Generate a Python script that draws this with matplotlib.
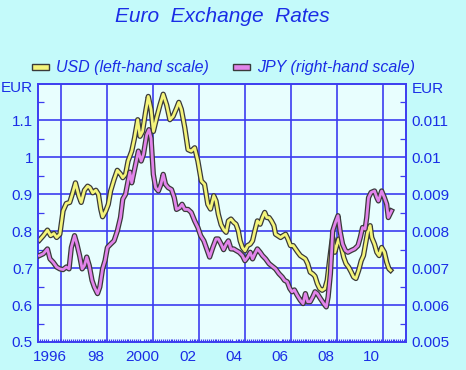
import numpy as np
import matplotlib
matplotlib.use("Agg")
import matplotlib.pyplot as plt
import matplotlib.patheffects as pe
from matplotlib.patches import Rectangle

plt.rcParams['font.family'] = ['Liberation Sans', 'DejaVu Sans']

# EUR per USD (left-hand scale)
usd_t = [1996.04, 1996.21, 1996.39, 1996.53, 1996.67, 1996.79, 1996.93, 1997.07, 1997.21, 1997.36,
         1997.47, 1997.61, 1997.76, 1997.86, 1998.00, 1998.14, 1998.24, 1998.36, 1998.50, 1998.61,
         1998.71, 1998.79, 1998.93, 1999.04, 1999.14, 1999.29, 1999.43, 1999.57, 1999.67, 1999.79,
         1999.90, 2000.06, 2000.18, 2000.32, 2000.42, 2000.53, 2000.67, 2000.78, 2000.90, 2001.00,
         2001.14, 2001.29, 2001.43, 2001.58, 2001.72, 2001.86, 2002.01, 2002.11, 2002.22, 2002.37,
         2002.51, 2002.65, 2002.80, 2002.94, 2003.09, 2003.23, 2003.37, 2003.49, 2003.63, 2003.73,
         2003.83, 2003.95, 2004.06, 2004.17, 2004.27, 2004.38, 2004.50, 2004.60, 2004.70, 2004.78,
         2004.88, 2004.99, 2005.10, 2005.22, 2005.32, 2005.42, 2005.53, 2005.65, 2005.75, 2005.85,
         2005.94, 2006.04, 2006.14, 2006.25, 2006.32, 2006.42, 2006.54, 2006.65, 2006.76, 2006.86,
         2006.97, 2007.09, 2007.19, 2007.29, 2007.40, 2007.52, 2007.62, 2007.72, 2007.83, 2007.95,
         2008.04, 2008.14, 2008.24, 2008.35, 2008.47, 2008.57, 2008.67, 2008.76, 2008.81, 2008.90,
         2009.00, 2009.07, 2009.19, 2009.29, 2009.39, 2009.50, 2009.62, 2009.72, 2009.82, 2009.94,
         2010.05, 2010.15, 2010.25, 2010.34, 2010.44, 2010.51, 2010.63, 2010.73, 2010.83, 2010.94,
         2011.06, 2011.16, 2011.26, 2011.33]
usd_v = [0.776, 0.788, 0.803, 0.788, 0.794, 0.783, 0.792, 0.855, 0.875, 0.878,
         0.900, 0.931, 0.895, 0.878, 0.911, 0.922, 0.918, 0.904, 0.911, 0.900,
         0.860, 0.839, 0.855, 0.873, 0.909, 0.940, 0.965, 0.955, 0.945, 0.954,
         0.990, 1.017, 1.052, 1.102, 1.057, 1.070, 1.126, 1.165, 1.130, 1.070,
         1.106, 1.142, 1.171, 1.142, 1.102, 1.111, 1.133, 1.149, 1.130, 1.080,
         1.021, 1.017, 1.026, 0.990, 0.936, 0.927, 0.873, 0.860, 0.896, 0.882,
         0.846, 0.818, 0.805, 0.797, 0.828, 0.833, 0.824, 0.819, 0.801, 0.774,
         0.756, 0.747, 0.761, 0.765, 0.774, 0.801, 0.828, 0.819, 0.837, 0.851,
         0.837, 0.837, 0.828, 0.815, 0.792, 0.788, 0.783, 0.788, 0.792, 0.779,
         0.761, 0.761, 0.752, 0.743, 0.734, 0.729, 0.725, 0.712, 0.689, 0.684,
         0.678, 0.658, 0.645, 0.640, 0.645, 0.667, 0.720, 0.765, 0.783, 0.743,
         0.765, 0.779, 0.756, 0.729, 0.712, 0.703, 0.689, 0.676, 0.672, 0.694,
         0.720, 0.734, 0.770, 0.801, 0.815, 0.783, 0.765, 0.743, 0.734, 0.756,
         0.743, 0.716, 0.698, 0.694]

# EUR per JPY (right-hand scale)
jpy_t = [1996.04, 1996.21, 1996.39, 1996.50, 1996.64, 1996.79, 1996.93, 1997.07, 1997.21, 1997.33,
         1997.43, 1997.57, 1997.67, 1997.79, 1997.90, 1998.00, 1998.10, 1998.21, 1998.33, 1998.43,
         1998.57, 1998.67, 1998.79, 1998.90, 1999.00, 1999.14, 1999.29, 1999.43, 1999.57, 1999.67,
         1999.79, 1999.90, 1999.98, 2000.06, 2000.21, 2000.35, 2000.47, 2000.57, 2000.71, 2000.81,
         2000.90, 2001.00, 2001.10, 2001.22, 2001.33, 2001.43, 2001.53, 2001.65, 2001.79, 2001.91,
         2002.01, 2002.15, 2002.25, 2002.37, 2002.51, 2002.65, 2002.80, 2002.94, 2003.06, 2003.20,
         2003.35, 2003.45, 2003.59, 2003.73, 2003.83, 2003.95, 2004.06, 2004.17, 2004.27, 2004.38,
         2004.50, 2004.60, 2004.74, 2004.88, 2004.99, 2005.10, 2005.22, 2005.32, 2005.42, 2005.53,
         2005.65, 2005.75, 2005.89, 2006.04, 2006.18, 2006.32, 2006.47, 2006.61, 2006.71, 2006.83,
         2006.94, 2007.04, 2007.14, 2007.26, 2007.40, 2007.52, 2007.62, 2007.72, 2007.83, 2007.95,
         2008.04, 2008.14, 2008.28, 2008.42, 2008.53, 2008.61, 2008.71, 2008.81, 2008.93, 2009.04,
         2009.14, 2009.24, 2009.36, 2009.47, 2009.62, 2009.76, 2009.91, 2010.01, 2010.11, 2010.22,
         2010.29, 2010.37, 2010.48, 2010.63, 2010.73, 2010.80, 2010.87, 2010.94, 2011.06, 2011.16,
         2011.23, 2011.30, 2011.37]
jpy_v = [0.00734, 0.00739, 0.00752, 0.00725, 0.00716, 0.00703, 0.00698, 0.00696, 0.00703, 0.00698,
         0.00756, 0.00788, 0.00766, 0.00734, 0.00698, 0.00707, 0.00730, 0.00707, 0.00667, 0.00649,
         0.00631, 0.00649, 0.00698, 0.00721, 0.00756, 0.00765, 0.00774, 0.00800, 0.00837, 0.00887,
         0.00900, 0.00936, 0.00960, 0.00931, 0.00976, 0.01017, 0.00990, 0.01008, 0.01061, 0.01075,
         0.01052, 0.00954, 0.00918, 0.00909, 0.00927, 0.00954, 0.00927, 0.00918, 0.00913, 0.00891,
         0.00859, 0.00864, 0.00873, 0.00859, 0.00859, 0.00851, 0.00828, 0.00810, 0.00788, 0.00774,
         0.00748, 0.00730, 0.00756, 0.00779, 0.00779, 0.00765, 0.00750, 0.00765, 0.00774, 0.00752,
         0.00752, 0.00748, 0.00743, 0.00734, 0.00720, 0.00729, 0.00743, 0.00725, 0.00739, 0.00752,
         0.00743, 0.00734, 0.00725, 0.00712, 0.00705, 0.00698, 0.00685, 0.00676, 0.00667, 0.00663,
         0.00645, 0.00636, 0.00641, 0.00627, 0.00613, 0.00604, 0.00631, 0.00609, 0.00609, 0.00623,
         0.00636, 0.00631, 0.00617, 0.00604, 0.00595, 0.00622, 0.00685, 0.00801, 0.00824, 0.00842,
         0.00797, 0.00765, 0.00748, 0.00743, 0.00748, 0.00752, 0.00761, 0.00783, 0.00810, 0.00806,
         0.00837, 0.00891, 0.00905, 0.00909, 0.00891, 0.00882, 0.00896, 0.00909, 0.00891, 0.00873,
         0.00837, 0.00846, 0.00855]

year_labels = ['1996', '98', '2000', '02', '04', '06', '08', '10']
label_years = [1996, 1998, 2000, 2002, 2004, 2006, 2008, 2010]

BG = '#c4fafa'
PLOT_BG = '#e8fefe'
BLUE = '#1a2de6'
GRID = '#3c3cf0'
YELLOW = '#f4f47a'
PINK = '#e284ea'

fig = plt.figure(figsize=(4.66, 3.70), dpi=100, facecolor=BG)
ax = fig.add_axes([0.0826, 0.0757, 0.7886, 0.6986])
ax.set_facecolor(PLOT_BG)
ax2 = ax.twinx()

ax.set_xlim(1996, 2012)
ax.set_ylim(0.5, 1.2)
ax2.set_ylim(0.005, 0.012)

# grid: vertical lines at the start of odd years, horizontal at 0.1 steps
for yr in range(1997, 2012, 2):
    ax.axvline(yr, color=GRID, lw=1.2, zorder=1)
for v in np.arange(0.6, 1.15, 0.1):
    ax.axhline(v, color=GRID, lw=1.2, zorder=1)

outline = [pe.Stroke(linewidth=3.8, foreground='#3a3a3a'), pe.Normal()]
ax.plot(usd_t, usd_v, color=YELLOW, lw=2.0, zorder=3, path_effects=outline)
ax2.plot(jpy_t, jpy_v, color=PINK, lw=2.0, zorder=3, path_effects=outline)

for s in ax.spines.values():
    s.set_color(GRID)
    s.set_linewidth(1.2)
for s in ax2.spines.values():
    s.set_color(GRID)
    s.set_linewidth(1.2)

# ticks and labels
ax.set_xticks([y + 0.5 for y in label_years])
ax.set_xticklabels(year_labels)
ax.set_xticks(np.arange(1996, 2012, 1 / 12), minor=True)
ax.tick_params(axis='x', which='major', length=0, pad=6, labelsize=11, labelcolor=BLUE)
ax.tick_params(axis='x', which='minor', direction='in', length=2.5, width=0.8, color=GRID)

ax.set_yticks(np.arange(0.5, 1.15, 0.1))
ax.set_yticklabels(['0.5', '0.6', '0.7', '0.8', '0.9', '1', '1.1'])
ax.set_yticks(np.arange(0.55, 1.2, 0.1), minor=True)
ax.tick_params(axis='y', which='major', length=0, pad=4, labelsize=11, labelcolor=BLUE)
ax.tick_params(axis='y', which='minor', direction='in', length=4, width=0.9, color=GRID)

ax2.set_yticks(np.arange(0.005, 0.0115, 0.001))
ax2.set_yticklabels(['0.005', '0.006', '0.007', '0.008', '0.009', '0.01', '0.011'])
ax2.set_yticks(np.arange(0.0055, 0.012, 0.001), minor=True)
ax2.tick_params(axis='y', which='major', length=0, pad=4, labelsize=11, labelcolor=BLUE)
ax2.tick_params(axis='y', which='minor', direction='in', length=4, width=0.9, color=GRID)

fig.text(0.071, 0.762, 'EUR', ha='right', va='center', fontsize=11, color=BLUE)
fig.text(0.884, 0.760, 'EUR', ha='left', va='center', fontsize=11, color=BLUE)

fig.text(0.478, 0.955, 'Euro  Exchange  Rates', ha='center', va='center',
         fontsize=15, style='italic', color=BLUE)

# legend
leg_y = 0.818
for x0, col, txt in [(0.069, YELLOW, 'USD (left-hand scale)'),
                     (0.500, PINK, 'JPY (right-hand scale)')]:
    fig.add_artist(Rectangle((x0, leg_y - 0.008), 0.037, 0.016, transform=fig.transFigure,
                             facecolor=col, edgecolor='#3a3a3a', lw=1.0))
    fig.text(x0 + 0.051, leg_y, txt, ha='left', va='center', fontsize=11.5,
             style='italic', color=BLUE)

fig.savefig('out.png', dpi=100, facecolor=BG)
